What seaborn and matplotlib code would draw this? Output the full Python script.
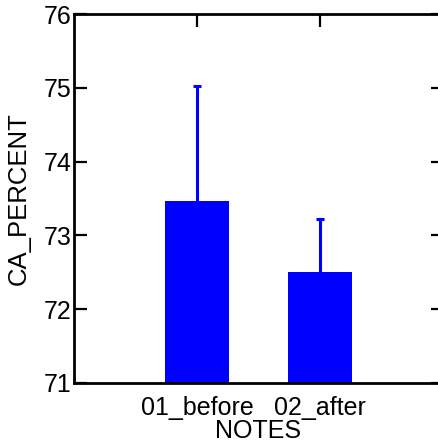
import matplotlib
matplotlib.use("Agg")
import matplotlib.pyplot as plt
import seaborn as sns
import pandas as pd

# valores
notes = ["01_before", "02_after"]
ca_percent = [73.46, 72.51]
ca_err = [1.56, 0.71]

df = pd.DataFrame({"NOTES": notes, "CA_PERCENT": ca_percent})

sns.set_theme(style="white")
plt.rcParams["font.family"] = ["Liberation Sans", "DejaVu Sans"]
plt.rcParams["text.color"] = "black"
plt.rcParams["axes.labelcolor"] = "black"

fig = plt.figure(figsize=(4.38, 4.47), dpi=100)
ax = fig.add_axes([74 / 438, (447 - 383) / 447, 369 / 438, 369 / 447])

sns.barplot(data=df, x="NOTES", y="CA_PERCENT", color="#0000ff", saturation=1,
            width=0.52, errorbar=None, ax=ax, linewidth=0)

# barras de erro só para cima
_, caps, _ = ax.errorbar(x=list(range(len(notes))), y=ca_percent,
                         yerr=[[0] * len(ca_err), ca_err], fmt="none",
                         ecolor="#0000ff", elinewidth=2.2, capsize=3, capthick=2.2)
caps[0].set_visible(False)

ax.set_ylim(71, 76)
ax.set_xlim(-1, 2)
ax.set_yticks([71, 72, 73, 74, 75, 76])

for s in ax.spines.values():
    s.set_color("black")
    s.set_linewidth(2)
    s.set_visible(True)

ax.tick_params(axis="both", direction="in", length=9, width=1.6, colors="black",
               labelsize=18, top=True, right=True, bottom=True, left=True)
ax.tick_params(axis="y", pad=2)
ax.tick_params(axis="x", pad=9)

ax.set_xlabel("NOTES", fontsize=18, labelpad=-0.5)
ax.set_ylabel("CA_PERCENT", fontsize=18.5, labelpad=9)

fig.savefig("out.png", dpi=100)
